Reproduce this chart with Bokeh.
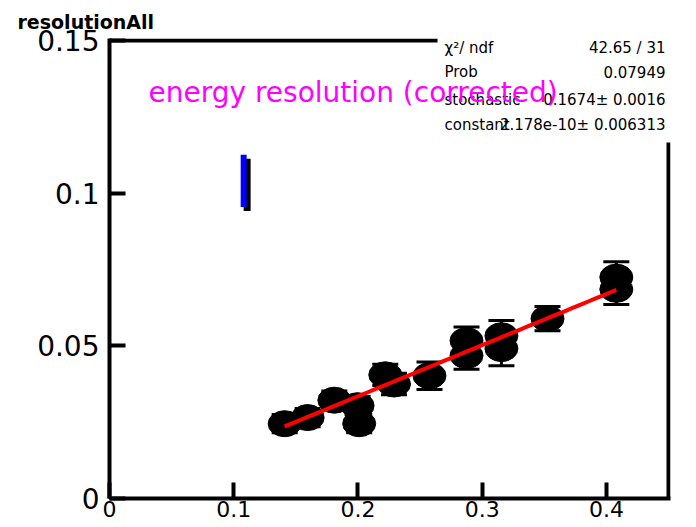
import numpy as np
from bokeh.plotting import figure
from bokeh.models import (ColumnDataSource, Label, Whisker, TeeHead, FixedTicker, Range1d)
from bokeh.embed import file_html
from bokeh.resources import INLINE

# ---- data ----
energy_x = [0.141, 0.1595, 0.181, 0.1997, 0.201, 0.222, 0.229, 0.2576,
            0.2874, 0.2874, 0.3155, 0.3155, 0.3526, 0.408, 0.408]
resolution = [0.0245, 0.0265, 0.0322, 0.0304, 0.0245, 0.0405, 0.0375, 0.0402,
              0.0517, 0.0468, 0.0533, 0.0491, 0.0589, 0.0725, 0.0685]
resolution_err = [0.003, 0.003, 0.003, 0.003, 0.003, 0.0035, 0.0035, 0.0045,
                  0.0045, 0.0045, 0.005, 0.0056, 0.004, 0.005, 0.005]

x_ticks = [0, 0.1, 0.2, 0.3, 0.4]
x_tick_labels = ["0", "0.1", "0.2", "0.3", "0.4"]
y_ticks = [0, 0.05, 0.1, 0.15]
y_tick_labels = ["0", "0.05", "0.1", "0.15"]
X_MAX = 0.45
Y_MAX = 0.15

stat_names = ["χ²/ ndf", "Prob", "stochastic", "constant"]
stat_values = ["42.65 / 31", "0.07949", "0.1674± 0.0016", "2.178e-10± 0.006313"]
stochastic = 0.1674
constant = 2.178e-10

legend_bar_x = [0.1056, 0.1104]
legend_bar_y = [0.0955, 0.1126]
legend_shadow_x = [0.108, 0.1136]
legend_shadow_y = [0.0942, 0.1113]

# ---- geometry (pixels of the picture) ----
W, H = 696, 527
AX_L, AX_R, AX_T, AX_B = 109, 668, 40, 498     # centres of the drawn box lines
PXX = (AX_R - AX_L) / X_MAX
PXY = (AX_B - AX_T) / Y_MAX
FR, FT = AX_R + 2, AX_T - 2                     # frame edges, 2 px outside lines


def dx(px):
    return (px - AX_L) / PXX


def dy(py):
    return (AX_B - py) / PXY


p = figure(width=W, height=H,
           x_range=Range1d(0, dx(FR)), y_range=Range1d(0, dy(FT)),
           output_backend="svg", toolbar_location=None,
           min_border_left=AX_L, min_border_right=W - FR, min_border_top=FT,
           min_border_bottom=H - AX_B)
p.background_fill_color = "white"
p.border_fill_color = "white"
p.xgrid.visible = False
p.ygrid.visible = False
p.outline_line_color = None

p.title.text = "resolutionAll"
p.title.text_font = "DejaVu Sans"
p.title.text_font_size = "19px"
p.title.text_font_style = "bold"
p.title.text_color = "black"
p.title.align = "left"
p.title.offset = 17 - AX_L
p.title.standoff = 12

for ax in (p.xaxis[0], p.yaxis[0]):
    ax.axis_line_width = 4
    ax.axis_line_color = "black"
    ax.major_tick_line_width = 4
    ax.major_tick_line_color = "black"
    ax.major_tick_in = 16
    ax.major_tick_out = 0
    ax.minor_tick_line_color = None
    ax.major_label_text_color = "black"
    ax.major_label_text_font = "DejaVu Sans"

p.xaxis.ticker = FixedTicker(ticks=x_ticks)
p.xaxis.major_label_overrides = {t: l for t, l in zip(x_ticks, x_tick_labels)}
p.xaxis.major_label_text_font_size = "22px"
p.xaxis.major_label_standoff = 2

p.yaxis.ticker = FixedTicker(ticks=y_ticks)
p.yaxis.major_label_overrides = {t: l for t, l in zip(y_ticks, y_tick_labels)}
p.yaxis.major_label_text_font_size = "28px"
p.yaxis.major_label_standoff = 10

# top and right box lines (partly hidden by the stats pave in the original)
p.segment(x0=[0], y0=[Y_MAX], x1=[dx(437)], y1=[Y_MAX], line_color="black", line_width=4)
p.segment(x0=[X_MAX], y0=[0], x1=[X_MAX], y1=[dy(142)], line_color="black", line_width=4)

# error bars
src = ColumnDataSource(dict(
    x=energy_x, y=resolution,
    lower=[r - e for r, e in zip(resolution, resolution_err)],
    upper=[r + e for r, e in zip(resolution, resolution_err)]))
wh = Whisker(source=src, base="x", lower="lower", upper="upper", dimension="height",
             line_color="black", line_width=3, level="underlay",
             upper_head=TeeHead(size=26, line_color="black", line_width=3),
             lower_head=TeeHead(size=26, line_color="black", line_width=3))
p.add_layout(wh)

p.ellipse(x="x", y="y", width=33, height=26, width_units="screen",
          height_units="screen", source=src, fill_color="black", line_color="black")

# fit function
fit_x = np.linspace(min(energy_x), max(energy_x), 60)
fit_y = np.sqrt((stochastic * fit_x) ** 2 + constant ** 2)
p.line(fit_x, fit_y, line_color="red", line_width=4)

# small legend-like bar
p.quad(left=[legend_shadow_x[0]], right=[legend_shadow_x[1]],
       bottom=[legend_shadow_y[0]], top=[legend_shadow_y[1]],
       fill_color="black", line_color=None)
p.quad(left=[legend_bar_x[0]], right=[legend_bar_x[1]],
       bottom=[legend_bar_y[0]], top=[legend_bar_y[1]],
       fill_color="blue", line_color=None)

row_y = [47, 71, 99, 124]
for name, val, ry in zip(stat_names, stat_values, row_y):
    p.add_layout(Label(x=dx(444), y=dy(ry), text=name, text_font="DejaVu Sans",
                       text_font_size="15px", text_baseline="middle",
                       text_color="black"))
    p.add_layout(Label(x=dx(665), y=dy(ry), text=val, text_font="DejaVu Sans",
                       text_font_size="15px", text_baseline="middle", text_align="right",
                       text_color="black"))

p.add_layout(Label(x=dx(148), y=dy(92), text="energy resolution (corrected)",
                   text_font="DejaVu Sans", text_font_size="28px", text_baseline="middle",
                   text_color="#ff00ff"))

open("out.html", "w").write(file_html(p, INLINE))
